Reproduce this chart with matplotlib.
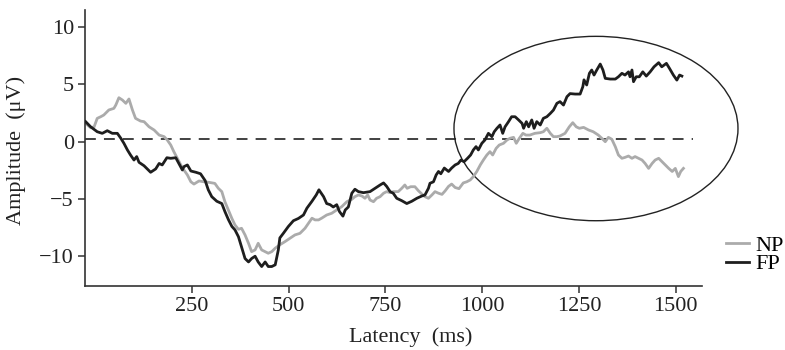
import matplotlib
matplotlib.use("Agg")
import matplotlib.pyplot as plt
from matplotlib.patches import Ellipse

t_fp = [-25, -12, 5, 18, 31, 44, 57, 66, 74, 83, 91, 100, 107, 113, 126, 143, 156, 165, 173, 185,
        195, 208, 216, 225, 229, 238, 247, 260, 272, 284, 292, 301, 314, 327, 335, 344, 353, 361, 370, 378,
        387, 396, 404, 413, 421, 430, 439, 447, 456, 465, 473, 477, 486, 499, 512, 525, 538, 547, 560, 571,
        578, 590, 598, 607, 615, 624, 631, 640, 646, 654, 663, 671, 680, 693, 710, 723, 736, 745, 753, 762,
        770, 779, 792, 805, 818, 831, 844, 852, 861, 865, 874, 881, 887, 893, 902, 908, 913, 921, 930, 938,
        945, 953, 962, 970, 977, 984, 990, 999, 1007, 1016, 1025, 1031, 1038, 1046, 1053, 1059, 1068, 1076, 1085, 1094,
        1103, 1107, 1114, 1120, 1128, 1134, 1141, 1150, 1158, 1167, 1176, 1184, 1193, 1201, 1210, 1219, 1227, 1240, 1253, 1260,
        1263, 1270, 1277, 1283, 1289, 1296, 1305, 1312, 1318, 1331, 1344, 1352, 1361, 1369, 1378, 1382, 1387, 1391, 1398, 1406,
        1415, 1424, 1434, 1444, 1456, 1464, 1476, 1484, 1494, 1503, 1510, 1516]
fp = [1.75, 1.3, 0.87, 0.73, 0.96, 0.73, 0.73, 0.3, -0.14, -0.72, -1.16, -1.6, -1.3, -1.8, -2.1, -2.67, -2.38, -1.9, -2.03, -1.4,
      -1.45, -1.4, -1.9, -2.47, -2.18, -2.03, -2.56, -2.67, -2.8, -3.4, -4.2, -4.8, -5.2, -5.4, -6.1, -6.8, -7.4, -7.7, -8.3, -9.2,
      -10.2, -10.5, -10.2, -10.0, -10.5, -10.9, -10.5, -10.9, -10.9, -10.75, -9.45, -8.4, -8.0, -7.4, -6.9, -6.7, -6.4, -5.8, -5.2, -4.65,
      -4.2, -4.8, -5.4, -5.5, -5.7, -5.5, -6.1, -6.5, -5.96, -5.7, -4.5, -4.15, -4.36, -4.45, -4.36, -4.07, -3.78, -3.6, -3.9, -4.36,
      -4.5, -4.94, -5.15, -5.4, -5.2, -4.94, -4.74, -4.65, -4.07, -3.63, -3.5, -2.9, -2.6, -2.8, -2.3, -2.47, -2.6, -2.3, -2.03, -1.9,
      -1.6, -1.75, -1.45, -1.16, -0.72, -0.43, -0.72, -0.14, 0.15, 0.73, 0.44, 0.87, 1.17, 1.46, 0.73, 1.3, 1.75, 2.18, 2.18, 1.9,
      1.6, 1.17, 1.75, 1.3, 1.9, 1.17, 1.75, 1.46, 2.04, 2.18, 2.47, 2.76, 3.35, 3.5, 3.2, 3.93, 4.2, 4.16, 4.16, 4.8,
      5.4, 4.95, 5.97, 6.26, 5.82, 6.26, 6.78, 6.26, 5.53, 5.47, 5.47, 5.67, 5.97, 5.82, 6.1, 5.67, 6.26, 5.24, 5.67, 5.67,
      6.1, 5.73, 6.1, 6.54, 6.9, 6.54, 6.84, 6.4, 5.82, 5.38, 5.82, 5.73]

t_np = [-25, -12, -3, 5, 14, 22, 35, 48, 53, 61, 70, 79, 87, 96, 104, 117, 126, 139, 152, 165,
        178, 186, 195, 203, 212, 221, 229, 238, 247, 255, 268, 281, 294, 309, 318, 327, 335, 344, 353, 361,
        370, 378, 387, 396, 404, 413, 421, 430, 439, 447, 456, 465, 477, 490, 503, 516, 529, 542, 551, 560,
        568, 577, 585, 598, 611, 624, 637, 650, 663, 671, 680, 689, 697, 704, 710, 719, 727, 736, 745, 753,
        762, 770, 783, 792, 800, 806, 815, 826, 835, 844, 852, 861, 870, 878, 887, 896, 904, 913, 921, 930,
        940, 951, 960, 969, 977, 986, 995, 1003, 1012, 1020, 1027, 1036, 1044, 1055, 1064, 1072, 1081, 1088, 1096, 1105,
        1113, 1123, 1136, 1150, 1158, 1167, 1176, 1184, 1193, 1201, 1214, 1225, 1234, 1243, 1251, 1262, 1275, 1287, 1300, 1309,
        1318, 1326, 1335, 1344, 1352, 1361, 1369, 1378, 1387, 1395, 1404, 1413, 1421, 1430, 1439, 1447, 1456, 1465, 1473, 1482,
        1491, 1499, 1507, 1513, 1520]
npv = [1.6, 1.22, 1.3, 2.04, 2.18, 2.33, 2.77, 2.91, 3.2, 3.84, 3.64, 3.35, 3.73, 2.77, 2.04, 1.8, 1.75, 1.3, 1.02, 0.58,
       0.44, 0.15, -0.29, -0.87, -1.45, -2.03, -2.47, -2.9, -3.5, -3.7, -3.43, -3.5, -3.55, -3.64, -4.07, -4.36, -5.24, -5.96, -6.7, -7.27,
       -7.65, -7.56, -8.14, -8.87, -9.6, -9.45, -8.87, -9.45, -9.6, -9.74, -9.6, -9.3, -9.0, -8.73, -8.43, -8.14, -8.0, -7.56, -7.12, -6.68,
       -6.83, -6.83, -6.68, -6.4, -6.25, -5.96, -5.67, -5.24, -5.03, -4.8, -4.65, -4.74, -4.94, -4.65, -5.09, -5.24, -4.94, -4.8, -4.5, -4.36,
       -4.45, -4.36, -4.36, -4.07, -3.78, -4.07, -3.93, -3.93, -4.28, -4.57, -4.8, -4.94, -4.65, -4.36, -4.5, -4.6, -4.3, -3.9, -3.7, -4.0,
       -4.1, -3.6, -3.5, -3.34, -3.05, -2.6, -2.03, -1.6, -1.16, -0.87, -1.16, -0.58, -0.29, -0.14, 0.15, 0.3, 0.38, -0.14, 0.3, 0.73,
       0.58, 0.58, 0.73, 0.79, 0.87, 1.17, 0.73, 0.44, 0.44, 0.5, 0.73, 1.3, 1.66, 1.3, 1.17, 1.25, 1.02, 0.87, 0.58, 0.3,
       0.0, 0.38, 0.21, -0.44, -1.16, -1.45, -1.37, -1.25, -1.45, -1.3, -1.45, -1.6, -1.9, -2.33, -1.9, -1.6, -1.45, -1.75, -2.03, -2.33,
       -2.6, -2.33, -3.05, -2.6, -2.33]

x_ticks = [250, 500, 750, 1000, 1250, 1500]
y_ticks = [-10, -5, 0, 5, 10]
y_ticklabels = ["\u221210", "\u22125", "0", "5", "10"]
series_labels = ["NP", "FP"]

plt.rcParams["font.family"] = ["Liberation Serif", "DejaVu Serif"]
plt.rcParams["mathtext.fontset"] = "dejavuserif"

fig = plt.figure(figsize=(7.85, 3.5), dpi=100)
ax = fig.add_axes([85 / 785, 1 - 286 / 350, 617 / 785, 276 / 350])

ax.plot([-26, 1545], [0.2, 0.2], color="#333333", lw=1.3, dashes=(6, 4.5), zorder=1)
ax.plot(t_np, npv, color="#ababab", lw=2.0, label=series_labels[0], zorder=2)
ax.plot(t_fp, fp, color="#1e1e1e", lw=2.0, label=series_labels[1], zorder=3)

ell = Ellipse((1294, 1.15), 734, 16.1, fill=False, edgecolor="#222222", lw=1.0, clip_on=False)
ax.add_patch(ell)

ax.set_xlim(-26.6, 1568)
ax.set_ylim(-12.6, 11.5)
ax.set_xticks(x_ticks)
ax.set_yticks(y_ticks)
ax.set_yticklabels(y_ticklabels)
for s in ["top", "right"]:
    ax.spines[s].set_visible(False)
for s in ["left", "bottom"]:
    ax.spines[s].set_color("#333333")
    ax.spines[s].set_linewidth(1.2)
ax.tick_params(axis="both", direction="out", length=5, width=1.1, color="#333333",
               labelsize=16, labelcolor="#222222", pad=3)

ax.set_xlabel("Latency  (ms)", fontsize=16, color="#222222")
ax.set_ylabel("Amplitude  (\u03bcV)", fontsize=16, color="#222222")
ax.xaxis.set_label_coords((411 - 85) / 617, -0.15)
ax.yaxis.set_label_coords(-0.095, 0.49)

leg = ax.legend(loc="upper left", bbox_to_anchor=(1.025, 0.215), frameon=False, fontsize=16,
                handlelength=1.0, handletextpad=0.3, labelspacing=-0.1, borderaxespad=0.0)

fig.savefig("out.png", dpi=100)
